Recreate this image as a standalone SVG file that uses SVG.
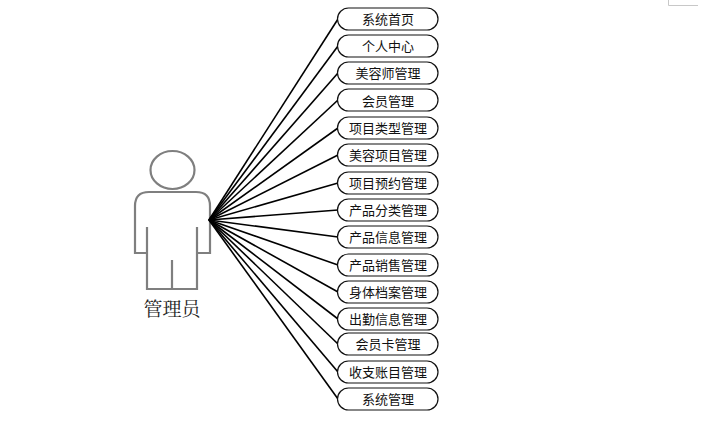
<svg xmlns="http://www.w3.org/2000/svg" width="714" height="426" viewBox="0 0 714 426">
<style>
.n rect{fill:#fff;stroke:#111;stroke-width:1.2}
.n text{font-family:"Noto Sans CJK SC","Noto Sans",sans-serif;font-size:13px;fill:#111;text-anchor:middle}
#connectors line{stroke:#000;stroke-width:1.6}
.p{fill:none;stroke:#7f7f7f;stroke-width:2.2}
</style>
<rect width="714" height="426" fill="#fff"/>
<path d="M668.500 0V5.500H698" fill="none" stroke="#c8c8c8"/>
<g id="actor">
<ellipse class="p" cx="172.500" cy="170" rx="22" ry="19"/>
<path class="p" d="M147 227V253H135V206Q135 192 149 192H196Q210 192 210 206V253H197V227M147 253V289H197V253M172 260V289"/>
<text x="172" y="316" font-family="'Noto Serif CJK SC','Noto Sans CJK SC',serif" font-size="19" text-anchor="middle" fill="#222">管理员</text>
</g>
<g id="connectors">
<line x1="209" y1="220" x2="338" y2="19"/>
<line x1="209" y1="220" x2="338" y2="46"/>
<line x1="209" y1="220" x2="338" y2="73"/>
<line x1="209" y1="220" x2="338" y2="100"/>
<line x1="209" y1="220" x2="338" y2="128"/>
<line x1="209" y1="220" x2="338" y2="155"/>
<line x1="209" y1="220" x2="338" y2="183"/>
<line x1="209" y1="220" x2="338" y2="210"/>
<line x1="209" y1="220" x2="338" y2="237"/>
<line x1="209" y1="220" x2="338" y2="265"/>
<line x1="209" y1="220" x2="338" y2="292"/>
<line x1="209" y1="220" x2="338" y2="319"/>
<line x1="209" y1="220" x2="338" y2="344"/>
<line x1="209" y1="220" x2="338" y2="372"/>
<line x1="209" y1="220" x2="338" y2="399"/>
</g>
<g id="n1" class="n"><rect x="337.500" y="8" width="100.500" height="22" rx="11"/><text x="388" y="23.500">系统首页</text></g>
<g id="n2" class="n"><rect x="337.500" y="35" width="100.500" height="22" rx="11"/><text x="388" y="50.500">个人中心</text></g>
<g id="n3" class="n"><rect x="337.500" y="62" width="100.500" height="22" rx="11"/><text x="388" y="77.500">美容师管理</text></g>
<g id="n4" class="n"><rect x="337.500" y="89" width="100.500" height="22" rx="11"/><text x="388" y="105.500">会员管理</text></g>
<g id="n5" class="n"><rect x="337.500" y="117" width="100.500" height="22" rx="11"/><text x="388" y="132.500">项目类型管理</text></g>
<g id="n6" class="n"><rect x="337.500" y="144" width="100.500" height="22" rx="11"/><text x="388" y="159.500">美容项目管理</text></g>
<g id="n7" class="n"><rect x="337.500" y="172" width="100.500" height="22" rx="11"/><text x="388" y="187.500">项目预约管理</text></g>
<g id="n8" class="n"><rect x="337.500" y="199" width="100.500" height="22" rx="11"/><text x="388" y="214.500">产品分类管理</text></g>
<g id="n9" class="n"><rect x="337.500" y="226" width="100.500" height="22" rx="11"/><text x="388" y="241.500">产品信息管理</text></g>
<g id="n10" class="n"><rect x="337.500" y="254" width="100.500" height="22" rx="11"/><text x="388" y="269.500">产品销售管理</text></g>
<g id="n11" class="n"><rect x="337.500" y="281" width="100.500" height="22" rx="11"/><text x="388" y="296.500">身体档案管理</text></g>
<g id="n12" class="n"><rect x="337.500" y="308" width="100.500" height="22" rx="11"/><text x="388" y="323.500">出勤信息管理</text></g>
<g id="n13" class="n"><rect x="337.500" y="333" width="100.500" height="22" rx="11"/><text x="388" y="348.500">会员卡管理</text></g>
<g id="n14" class="n"><rect x="337.500" y="361" width="100.500" height="22" rx="11"/><text x="388" y="376.500">收支账目管理</text></g>
<g id="n15" class="n"><rect x="337.500" y="388" width="100.500" height="22" rx="11"/><text x="388" y="403.500">系统管理</text></g>
</svg>
